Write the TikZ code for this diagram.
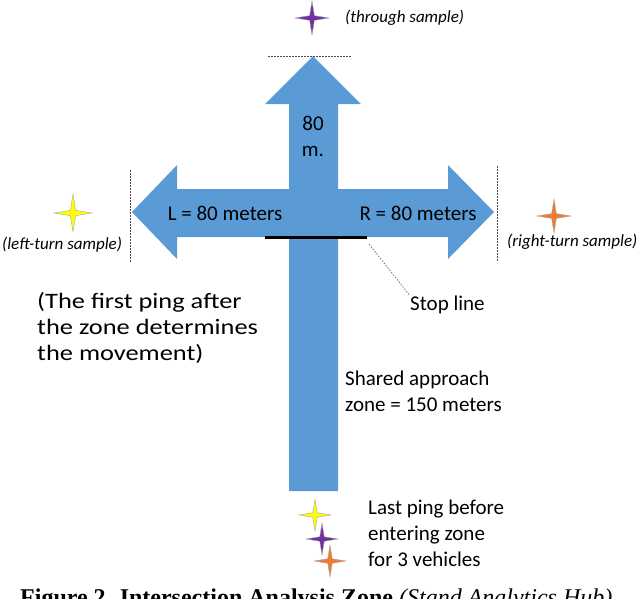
\documentclass[tikz,border=0pt]{standalone}
\usepackage{fontspec}
\setmainfont{Carlito}
\newfontfamily\capfont{Liberation Serif}
\definecolor{arrowblue}{HTML}{5B9BD5}
\definecolor{starpurple}{HTML}{7030A0}
\definecolor{staryellow}{HTML}{FFFF00}
\definecolor{starorange}{HTML}{ED7D31}
\begin{document}
\begin{tikzpicture}[x=1pt,y=-1pt,
  star4/.pic={\path[pic actions] (0,-1)--(.14,-.14)--(1,0)--(.14,.14)--(0,1)--(-.14,.14)--(-1,0)--(-.14,-.14)--cycle;},
  lbl/.style={inner sep=0pt,font=\fontsize{21}{26}\selectfont},
  smalllbl/.style={inner sep=0pt,font=\fontsize{17}{20}\selectfont\itshape},
  limit/.style={draw=black!70,line width=1pt,dash pattern=on 1.5pt off 1.5pt},
  starline/.style={draw=black!35,line width=0.4pt}]
\useasboundingbox (0,0) rectangle (640,598);
% cross arrow
\fill[arrowblue] (313,56) -- (361,104) -- (338,104) -- (338,189) -- (448,189) -- (448,165)
  -- (494,212) -- (448,259) -- (448,237) -- (338,237) -- (338,491) -- (289,491) -- (289,237)
  -- (177,237) -- (177,259) -- (132,212) -- (177,165) -- (177,189) -- (289,189) -- (289,104)
  -- (265,104) -- cycle;
% limits
\coordinate (t1) at (268,56); \coordinate (t2) at (352,56);
\draw[limit,line width=0.7pt] (t1) -- (t2);
\coordinate (l1) at (130,170); \coordinate (l2) at (130,262);
\draw[limit] (l1) -- (l2);
\coordinate (r1) at (497,166); \coordinate (r2) at (497,262);
\draw[limit] (r1) -- (r2);
% stop line
\coordinate (sl1) at (265,237); \coordinate (sl2) at (367,237);
\draw[line width=3pt] (sl1) -- (sl2);
% stars
\pic[fill=starpurple,starline,scale=17] at (312,18) {star4};
\pic[fill=staryellow,starline,scale=19] at (73,213) {star4};
\pic[fill=starorange,starline,scale=17] at (554,216) {star4};
\pic[fill=staryellow,starline,scale=16] at (315,515) {star4};
\pic[fill=starpurple,starline,scale=16] at (322,539) {star4};
\pic[fill=starorange,starline,scale=16] at (330,561) {star4};
% labels
\node[smalllbl,anchor=west] (thr) at (345,18) {(through sample)};
\node[smalllbl,anchor=west] (lft) at (2,245) {(left-turn sample)};
\node[smalllbl,anchor=west] (rgt) at (507,242) {(right-turn sample)};
\node[lbl] (L) at (225,213) {L = 80 meters};
\node[lbl] (R) at (418,213) {R = 80 meters};
\node[lbl,align=center] (up) at (313,136) {80\\m.};
\node[lbl,anchor=west] (stoplbl) at (410,305) {Stop line};
\coordinate (lead) at (369,244);
\draw[black!60,line width=0.7pt,dash pattern=on 1.5pt off 1.5pt] (lead) -- (stoplbl.north west);
\node[lbl,anchor=west,font=\fontsize{22}{26}\selectfont] (ping) at (37,329)
  {\scalebox{1.2}[1]{\begin{tabular}{@{}l@{}}(The first ping after\\the zone determines\\the movement)\end{tabular}}};
\node[lbl,anchor=west,align=left] (shared) at (345,391) {Shared approach\\zone = 150 meters};
\node[lbl,anchor=west,align=left] (last) at (368,533) {Last ping before\\entering zone\\for 3 vehicles};
\node[inner sep=0pt,anchor=base west,font=\capfont\fontsize{24}{28}\selectfont] (cap) at (20,605)
  {\textbf{Figure 2. Intersection Analysis Zone} \textit{(Stand Analytics Hub)}};
\end{tikzpicture}
\end{document}
